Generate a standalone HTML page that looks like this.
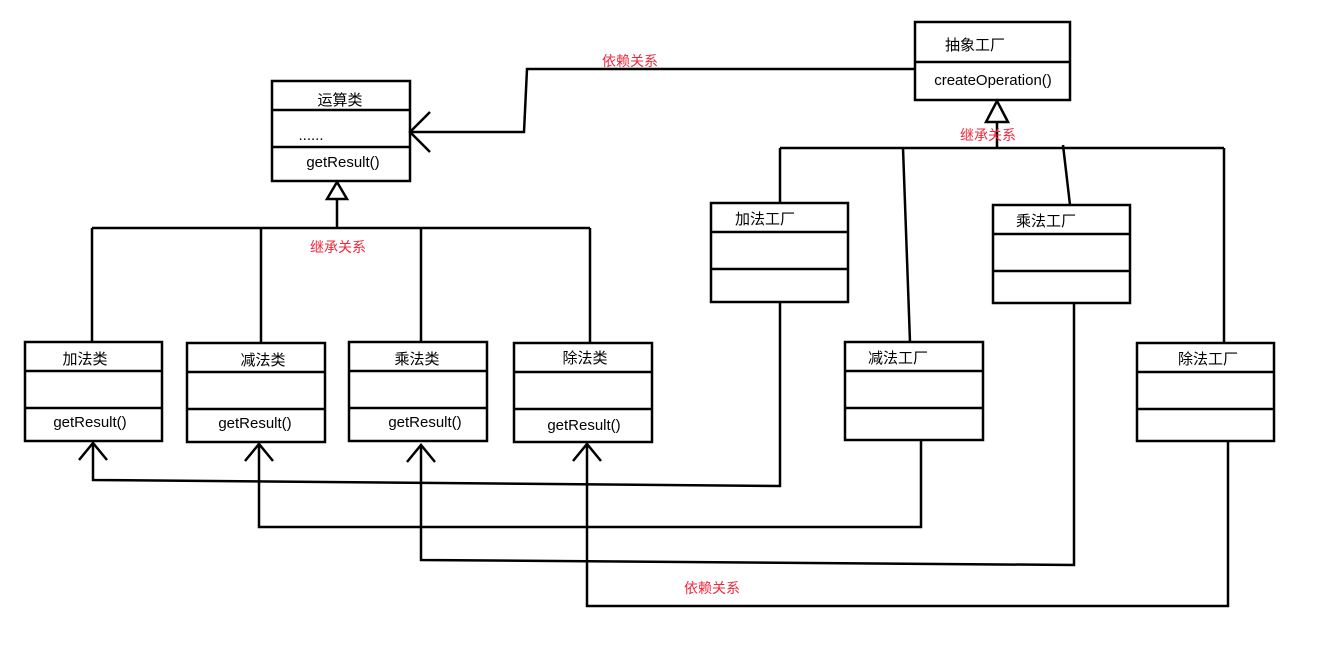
<!DOCTYPE html>
<html><head><meta charset="utf-8"><style>
body{margin:0;background:#fff;}
svg{display:block;font-family:"Liberation Sans","Noto Sans CJK SC",sans-serif;}
text{font-size:15px;fill:#000;}
.r{fill:#f0283c;font-size:14px;}
</style></head><body>
<svg width="1327" height="645" viewBox="0 0 1327 645" xmlns="http://www.w3.org/2000/svg">
<g fill="none" stroke="#000" stroke-width="2.5">
<!-- boxes -->
<rect x="272" y="81" width="138" height="100"/><line x1="272" y1="110" x2="410" y2="110"/><line x1="272" y1="147" x2="410" y2="147"/>
<rect x="915" y="22" width="155" height="78"/><line x1="915" y1="62" x2="1070" y2="62"/>
<rect x="25" y="342" width="137" height="99"/><line x1="25" y1="371" x2="162" y2="371"/><line x1="25" y1="408" x2="162" y2="408"/>
<rect x="187" y="343" width="138" height="99"/><line x1="187" y1="372" x2="325" y2="372"/><line x1="187" y1="409" x2="325" y2="409"/>
<rect x="349" y="342" width="138" height="99"/><line x1="349" y1="371" x2="487" y2="371"/><line x1="349" y1="408" x2="487" y2="408"/>
<rect x="514" y="343" width="138" height="99"/><line x1="514" y1="372" x2="652" y2="372"/><line x1="514" y1="409" x2="652" y2="409"/>
<rect x="711" y="203" width="137" height="99"/><line x1="711" y1="232" x2="848" y2="232"/><line x1="711" y1="269" x2="848" y2="269"/>
<rect x="993" y="205" width="137" height="98"/><line x1="993" y1="234" x2="1130" y2="234"/><line x1="993" y1="271" x2="1130" y2="271"/>
<rect x="845" y="342" width="138" height="98"/><line x1="845" y1="371" x2="983" y2="371"/><line x1="845" y1="408" x2="983" y2="408"/>
<rect x="1137" y="343" width="137" height="98"/><line x1="1137" y1="372" x2="1274" y2="372"/><line x1="1137" y1="409" x2="1274" y2="409"/>
<!-- left inheritance -->
<polygon points="337,182 327,199 347,199"/>
<line x1="337" y1="199" x2="337" y2="228"/>
<line x1="92" y1="228" x2="590" y2="228"/>
<line x1="92" y1="228" x2="92" y2="342"/><line x1="261" y1="228" x2="261" y2="343"/>
<line x1="421" y1="228" x2="421" y2="342"/><line x1="590" y1="228" x2="590" y2="343"/>
<!-- right inheritance -->
<polygon points="997,101 986,122 1008,122"/>
<line x1="997" y1="122" x2="997" y2="148"/>
<line x1="780" y1="148" x2="1224" y2="148"/>
<line x1="780" y1="148" x2="780" y2="203"/><line x1="903" y1="148" x2="910" y2="342"/>
<line x1="1063" y1="145" x2="1070" y2="205"/><line x1="1224" y1="148" x2="1224" y2="343"/>
<!-- top dependency -->
<polyline points="915,69 527,69 524,132 410,132"/>
<polyline points="430,112 410,132 430,152"/>
<!-- bottom dependencies -->
<polyline points="780,302 780,486 93,480 93,443"/><polyline points="79,460 93,443 107,460"/>
<polyline points="921,440 921,527 259,527 259,444"/><polyline points="245,461 259,444 273,461"/>
<polyline points="1074,303 1074,565 421,560 421,445"/><polyline points="407,462 421,445 435,462"/>
<polyline points="1228,441 1228,606 587,606 587,444"/><polyline points="573,461 587,444 601,461"/>
</g>
<g text-anchor="middle">
<text x="340" y="105">运算类</text><text x="311" y="140">......</text><text x="343" y="167">getResult()</text>
<text x="975" y="50">抽象工厂</text><text x="993" y="85">createOperation()</text>
<text x="85" y="364">加法类</text><text x="90" y="427">getResult()</text>
<text x="263" y="365">减法类</text><text x="255" y="428">getResult()</text>
<text x="417" y="364">乘法类</text><text x="425" y="427">getResult()</text>
<text x="585" y="363">除法类</text><text x="584" y="430">getResult()</text>
<text x="765" y="224">加法工厂</text><text x="1046" y="226">乘法工厂</text>
<text x="898" y="363">减法工厂</text><text x="1208" y="364">除法工厂</text>
<text class="r" x="630" y="66">依赖关系</text>
<text class="r" x="988" y="140">继承关系</text>
<text class="r" x="338" y="252">继承关系</text>
<text class="r" x="712" y="593">依赖关系</text>
</g>
</svg>
</body></html>
